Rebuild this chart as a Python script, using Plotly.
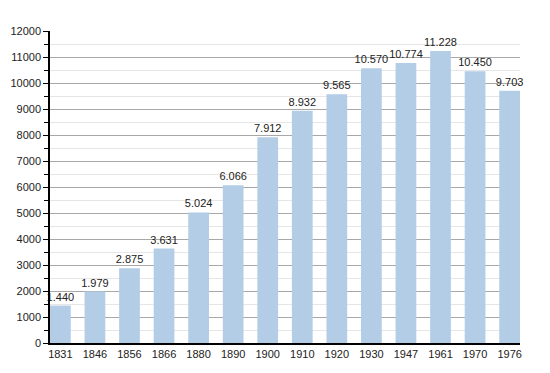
import plotly.graph_objects as go

years = ["1831", "1846", "1856", "1866", "1880", "1890", "1900", "1910",
         "1920", "1930", "1947", "1961", "1970", "1976"]
population = [1440, 1979, 2875, 3631, 5024, 6066, 7912, 8932, 9565,
              10570, 10774, 11228, 10450, 9703]

fig = go.Figure()
fig.add_trace(go.Bar(
    x=list(range(len(years))),
    y=population,
    width=0.6,
    marker=dict(color="#b3cde7", line=dict(width=0)),
    texttemplate="%{y:,}",
    textposition="outside",
    constraintext="none",
    textfont=dict(family="Liberation Sans, Arial, sans-serif", size=11, color="#222222"),
    cliponaxis=False,
))

fig.update_layout(
    width=534, height=357,
    margin=dict(l=42, r=22, t=23, b=22, autoexpand=False),
    plot_bgcolor="white", paper_bgcolor="white",
    separators=",.",
    showlegend=False,
    font=dict(family="Liberation Sans, Arial, sans-serif", size=11, color="#222222"),
    xaxis=dict(
        range=[-0.3, 13.3],
        tickmode="array",
        tickvals=list(range(len(years))),
        ticktext=years,
        showgrid=False,
        showline=True, linecolor="black", linewidth=1.5,
        ticks="", zeroline=False, automargin=False,
        tickfont=dict(size=11),
    ),
    yaxis=dict(
        range=[0, 12000],
        dtick=1000,
        tickformat="d",
        showgrid=True, gridcolor="#a8a8a8", gridwidth=1,
        showline=True, linecolor="black", linewidth=1.5,
        ticks="outside", ticklen=5, tickcolor="black", tickwidth=1,
        zeroline=False, automargin=False,
        minor=dict(dtick=500, showgrid=True, gridcolor="#e6e6e6", gridwidth=1,
                   ticks="outside", ticklen=4, tickcolor="black"),
        tickfont=dict(size=11),
    ),
)

fig.write_html("out.html")
